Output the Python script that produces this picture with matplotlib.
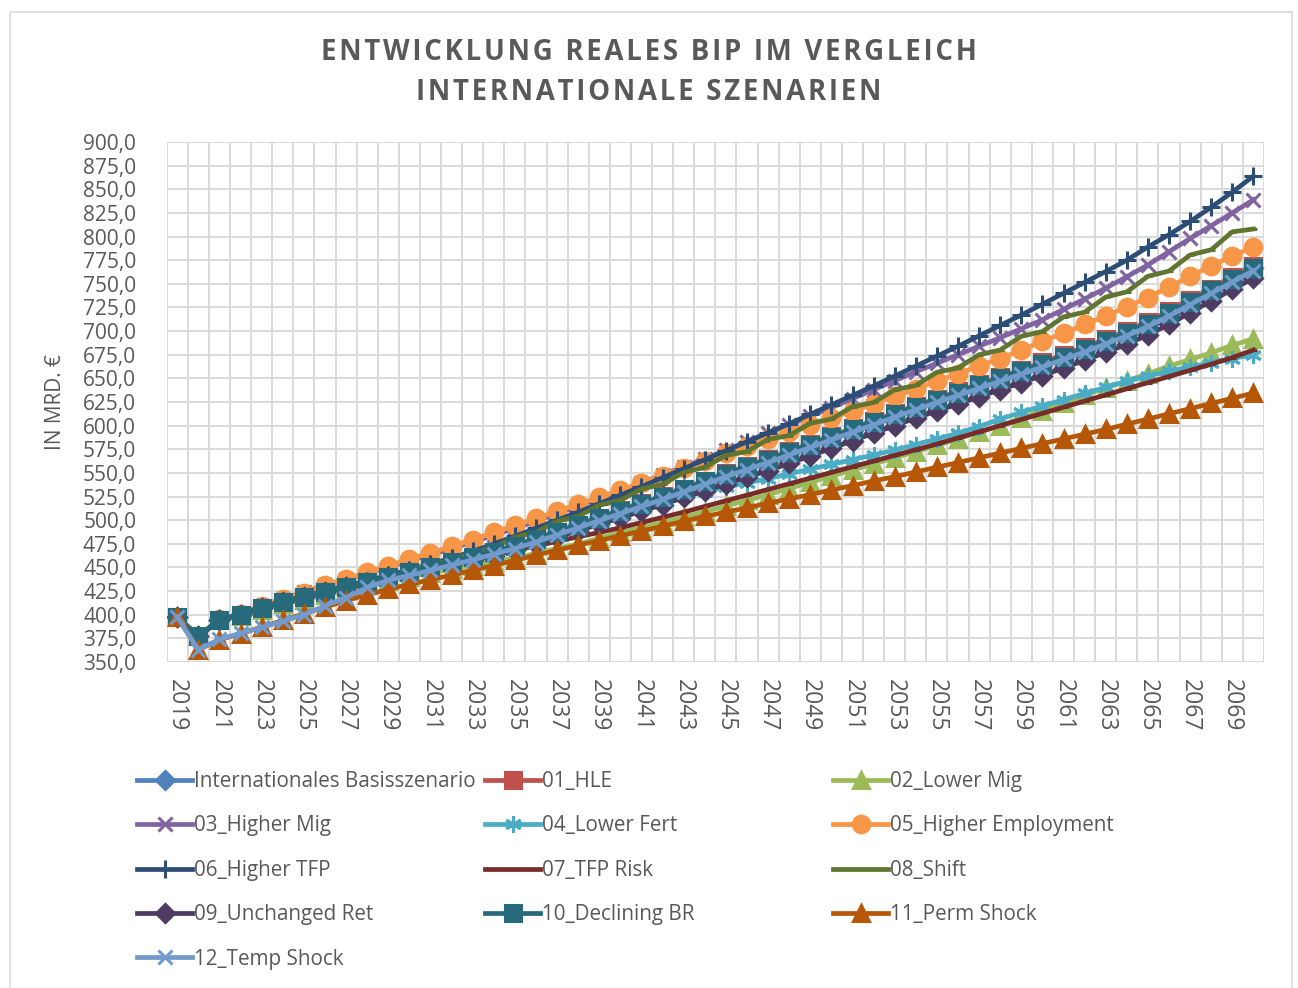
import numpy as np
import matplotlib
matplotlib.use('Agg')
import matplotlib.pyplot as plt
from matplotlib.patches import Rectangle

plt.rcParams['font.family'] = ['Open Sans', 'DejaVu Sans']

years = list(range(2019, 2071))

names = ['Internationales Basisszenario', '01_HLE', '02_Lower Mig', '03_Higher Mig',
         '04_Lower Fert', '05_Higher Employment', '06_Higher TFP', '07_TFP Risk',
         '08_Shift', '09_Unchanged Ret', '10_Declining BR', '11_Perm Shock', '12_Temp Shock']

basis = [397.5, 377.0, 394.5, 400.0, 407.0, 413.5, 419.0, 424.5, 429.5, 434.5,
         440.0, 445.5, 451.0, 456.0, 461.0, 466.5, 473.0, 480.0, 487.5, 495.0,
         502.5, 510.0, 517.0, 524.5, 532.5, 540.5, 548.5, 556.0, 563.5, 571.5,
         579.5, 587.5, 595.5, 603.5, 611.5, 619.5, 627.0, 634.5, 642.0, 649.5,
         657.0, 664.5, 672.5, 680.5, 689.0, 697.5, 707.5, 718.5, 730.5, 742.5,
         754.5, 766.5]
hle = [397.5, 377.0, 394.5, 400.0, 407.0, 413.5, 419.0, 424.5, 429.5, 434.5,
       440.0, 445.5, 451.0, 456.0, 461.0, 466.5, 473.0, 480.0, 487.5, 495.0,
       502.5, 510.5, 518.0, 525.5, 533.5, 541.5, 549.5, 557.0, 565.0, 573.0,
       581.0, 589.0, 597.0, 605.0, 613.0, 621.0, 628.5, 636.5, 644.0, 651.5,
       659.0, 667.0, 675.0, 683.0, 691.5, 700.0, 710.0, 721.0, 733.0, 745.0,
       757.0, 769.0]
lower_mig = [397.5, 377.0, 394.0, 399.0, 405.0, 411.0, 416.0, 421.0, 426.0, 431.0,
             436.0, 440.0, 444.0, 448.0, 452.0, 456.0, 460.0, 465.0, 470.0, 475.0,
             481.0, 487.0, 492.0, 497.5, 503.0, 509.0, 515.0, 521.0, 527.0, 533.5,
             540.0, 546.5, 553.0, 559.5, 566.0, 572.5, 579.0, 586.0, 593.0, 600.0,
             608.0, 616.0, 624.0, 632.0, 640.0, 647.5, 655.0, 663.0, 670.0, 677.0,
             685.0, 692.0]
higher_mig = [397.5, 377.0, 395.0, 401.0, 409.0, 417.0, 424.0, 431.0, 437.5, 444.0,
              450.5, 457.0, 463.5, 470.0, 477.0, 484.0, 491.5, 499.0, 507.0, 515.0,
              523.0, 531.0, 539.5, 548.0, 556.5, 565.0, 574.0, 583.0, 592.0, 601.0,
              610.0, 619.0, 628.5, 638.0, 647.5, 657.0, 666.0, 675.0, 684.0, 693.0,
              702.5, 712.0, 723.0, 734.0, 745.5, 757.5, 770.0, 784.0, 798.0, 811.5,
              825.0, 839.0]
lower_fert = [397.5, 377.0, 394.5, 400.0, 407.0, 413.5, 419.0, 424.5, 429.5, 434.5,
              439.5, 445.0, 450.0, 455.0, 460.0, 465.5, 472.0, 479.0, 486.0, 493.5,
              501.0, 508.5, 514.0, 519.5, 525.0, 530.0, 535.0, 539.5, 544.0, 549.0,
              554.0, 559.0, 564.0, 569.0, 574.0, 580.0, 586.0, 592.0, 599.0, 607.0,
              614.0, 621.0, 627.5, 634.0, 640.5, 647.0, 652.5, 657.5, 662.0, 666.5,
              671.0, 675.0]
higher_emp = [397.5, 377.0, 395.0, 401.0, 409.0, 417.0, 423.5, 431.0, 438.0, 445.0,
              452.0, 459.0, 465.5, 472.5, 479.5, 487.0, 494.5, 502.0, 509.5, 517.0,
              524.5, 532.0, 539.5, 547.0, 555.0, 563.0, 571.0, 578.5, 586.0, 593.5,
              601.0, 608.0, 615.5, 623.0, 631.0, 639.0, 647.0, 655.0, 663.0, 671.0,
              680.0, 689.0, 698.0, 707.0, 716.0, 725.5, 735.5, 746.5, 758.0, 769.0,
              779.5, 789.0]
higher_tfp = [397.5, 377.0, 394.5, 400.0, 407.0, 413.5, 419.0, 425.0, 430.5, 436.0,
              441.5, 447.5, 453.5, 460.0, 467.0, 475.0, 483.0, 491.5, 500.0, 508.5,
              517.5, 526.5, 535.5, 545.0, 554.5, 564.0, 573.5, 583.0, 592.5, 602.0,
              612.0, 622.0, 632.0, 642.0, 652.5, 663.0, 673.5, 684.0, 695.0, 706.0,
              717.0, 728.5, 740.0, 751.5, 763.0, 775.0, 789.0, 802.0, 816.0, 831.0,
              847.0, 864.0]
tfp_risk = [397.5, 377.0, 394.5, 400.0, 407.0, 413.5, 419.0, 424.5, 429.5, 434.0,
            439.5, 444.5, 449.0, 453.5, 458.0, 463.0, 468.0, 473.0, 477.5, 482.5,
            487.0, 492.0, 497.5, 503.0, 508.5, 514.5, 520.5, 526.5, 532.5, 538.5,
            544.5, 550.5, 556.5, 562.5, 568.5, 574.5, 580.5, 587.0, 593.5, 600.0,
            606.5, 613.0, 619.5, 626.0, 632.5, 639.0, 645.5, 652.0, 658.5, 665.0,
            672.0, 680.0]
shift = [397.5, 377.0, 394.5, 400.0, 407.0, 413.5, 419.0, 424.5, 429.5, 434.5,
         440.0, 445.5, 454.0, 457.5, 466.5, 471.0, 482.0, 487.0, 499.0, 504.0,
         516.0, 521.0, 533.0, 538.0, 550.5, 556.0, 568.5, 572.5, 585.5, 589.5,
         602.5, 607.0, 620.0, 624.5, 638.0, 642.5, 656.5, 661.0, 675.0, 680.0,
         694.5, 699.5, 715.0, 720.0, 736.0, 741.5, 758.0, 763.5, 780.5, 786.0,
         805.0, 808.0]
unchanged_ret = [397.5, 377.0, 394.5, 400.0, 407.0, 413.5, 419.0, 424.0, 429.0, 433.5,
                 439.0, 444.0, 449.0, 453.5, 458.0, 462.5, 468.5, 475.0, 482.0, 489.0,
                 495.5, 502.5, 509.5, 516.5, 524.0, 531.0, 538.5, 545.5, 552.5, 560.0,
                 568.0, 576.0, 584.0, 592.0, 600.0, 608.0, 615.5, 623.0, 630.5, 638.0,
                 645.5, 653.0, 661.0, 669.0, 677.5, 686.0, 696.0, 707.0, 719.5, 732.0,
                 744.0, 756.0]
declining_br = [397.5, 377.0, 394.5, 400.0, 407.0, 413.5, 419.0, 424.5, 429.5, 434.5,
                440.0, 445.5, 451.0, 456.0, 461.0, 466.5, 473.0, 480.0, 487.5, 495.0,
                502.5, 510.0, 517.5, 525.0, 533.0, 541.0, 549.0, 556.5, 564.0, 572.0,
                580.0, 588.0, 596.0, 604.0, 612.0, 620.0, 627.5, 635.0, 642.5, 650.0,
                657.5, 665.0, 673.0, 681.0, 689.5, 698.0, 708.0, 719.0, 731.0, 743.0,
                755.0, 767.0]
perm_shock = [397.5, 363.0, 373.5, 380.0, 387.0, 394.0, 401.0, 408.0, 415.0, 421.0,
              427.0, 432.0, 437.0, 442.0, 447.0, 452.0, 457.5, 463.0, 468.0, 473.5,
              478.5, 483.5, 488.5, 493.5, 499.0, 504.0, 508.5, 513.0, 518.0, 522.5,
              527.0, 532.0, 536.5, 541.5, 546.0, 551.0, 556.0, 561.0, 566.0, 571.0,
              576.0, 581.0, 586.0, 591.0, 596.0, 601.5, 607.0, 612.5, 618.0, 623.5,
              629.0, 634.5]
temp_shock = [397.5, 363.0, 374.0, 380.5, 386.5, 393.0, 400.0, 409.5, 418.0, 429.0,
              436.5, 441.5, 447.0, 452.5, 458.0, 464.0, 470.0, 477.0, 484.5, 492.0,
              499.5, 507.0, 514.5, 522.0, 530.0, 538.0, 546.0, 553.5, 561.0, 569.0,
              577.0, 585.0, 593.0, 601.0, 609.0, 617.0, 624.5, 632.0, 639.5, 647.0,
              654.5, 662.0, 670.0, 678.0, 686.5, 695.0, 705.0, 716.0, 728.0, 740.0,
              752.0, 764.0]

series = [basis, hle, lower_mig, higher_mig, lower_fert, higher_emp, higher_tfp,
          tfp_risk, shift, unchanged_ret, declining_br, perm_shock, temp_shock]

colors = ['#4F81BD', '#C0504D', '#9BBB59', '#8064A2', '#4BACC6', '#F79646', '#2C4D75',
          '#772C2A', '#5F7530', '#4D3B62', '#276A7C', '#B65708', '#729ACA']
markers = ['D', 's', '^', 'x', (6, 2, 0), 'o', '+', '_', '_', 'D', 's', '^', 'x']
msizes = [9.5, 11, 12, 10, 12, 12, 13, 6, 6, 9.5, 11, 12, 10]

text_col = '#595959'
grid_col = '#D9D9D9'

fig = plt.figure(figsize=(12.98, 9.88), dpi=100)
ax = fig.add_axes([166.7 / 1298, 1 - 662 / 988, (1264 - 166.7) / 1298, (662 - 142) / 988])

x = np.arange(len(years))
lines = []
for vals, name, c, m, ms in zip(series, names, colors, markers, msizes):
    ln, = ax.plot(x, vals, color=c, lw=3.4, marker=m, markersize=ms,
                  markerfacecolor=c, markeredgecolor=c, markeredgewidth=2.2, label=name)
    lines.append(ln)

ax.set_xlim(-0.5, len(years) - 0.5)
ax.set_ylim(350, 900)
ax.set_yticks(np.arange(350, 901, 25))
ax.set_yticklabels([('%.1f' % v).replace('.', ',') for v in np.arange(350, 901, 25)])
ax.set_xticks(x[::2])
ax.set_xticklabels([str(y) for y in years[::2]], rotation=-90)
ax.set_xticks(np.arange(-0.5, len(years), 1), minor=True)
ax.tick_params(axis='both', which='both', length=0, colors=text_col)
ax.tick_params(axis='x', pad=12, labelsize=16.5)
ax.tick_params(axis='y', pad=22, labelsize=15)
ax.yaxis.grid(True, color=grid_col, lw=1.4)
ax.xaxis.grid(True, which='minor', color=grid_col, lw=1.4)
ax.xaxis.grid(False, which='major')
ax.set_axisbelow(True)
for sp in ax.spines.values():
    sp.set_visible(False)

ax.set_ylabel('IN MRD. €', fontsize=15, color=text_col, labelpad=12)

hs = '\u200a'
t1 = hs.join('ENTWICKLUNG REALES BIP IM VERGLEICH')
t2 = hs.join('INTERNATIONALE SZENARIEN')
fig.text(0.5, 1 - 53 / 988, t1, ha='center', va='center', fontsize=19.8,
         fontweight='bold', color=text_col)
fig.text(0.5, 1 - 93 / 988, t2, ha='center', va='center', fontsize=19.8,
         fontweight='bold', color=text_col)

# legend: three columns, row order as in the original
cols = [[0, 3, 6, 9, 12], [1, 4, 7, 10], [2, 5, 8, 11]]
col_x = [137, 485, 833]
for idx, cx in zip(cols, col_x):
    fig.legend([lines[i] for i in idx], [names[i] for i in idx], loc='upper left',
               bbox_to_anchor=(cx / 1298, 1 - 771 / 988), frameon=False, fontsize=14.9,
               labelcolor=text_col, handlelength=2.67, handletextpad=0.1,
               labelspacing=1.13, borderpad=0, borderaxespad=0)

fig.patches.append(Rectangle((10 / 1298, -0.01), 1282 / 1298, 1 - 12 / 988 + 0.01,
                             transform=fig.transFigure, fill=False, ec=grid_col, lw=1.2))

fig.savefig('out.png', dpi=100)
